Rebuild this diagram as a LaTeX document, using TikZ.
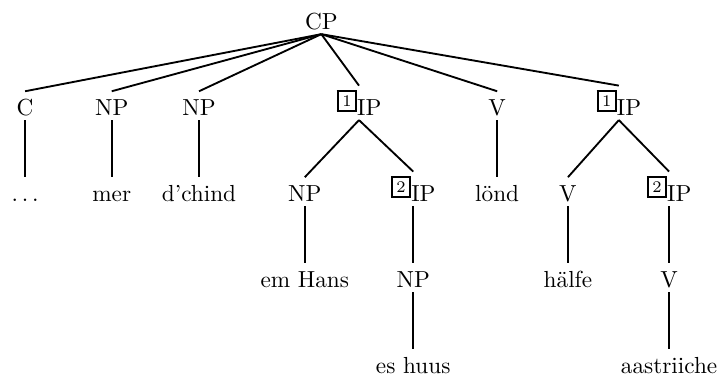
\documentclass[tikz,border=0pt]{standalone}
\usepackage{fontspec}
\usepackage{tikz}
\newcommand{\ibox}[1]{\raisebox{4pt}{\fboxsep=1.5pt\fboxrule=0.9pt\fbox{\scriptsize #1}}}
\tikzset{
  tn/.style={anchor=base,inner sep=1.7pt,text height=2ex,text depth=0pt},
  tb/.style={anchor=base,inner sep=1.7pt,text depth=0pt},
  br/.style={line width=0.8pt}
}
\begin{document}
\begin{tikzpicture}
        \useasboundingbox (0,0) rectangle (10.89,-5.72);
        % level 0
        \node[tn] (cp) at (4.86,-0.45) {CP};
        % level 1
        \node[tn] (c) at (0.38,-1.75) {C};
        \node[tn] (npa) at (1.69,-1.75) {NP};
        \node[tn] (npb) at (3.01,-1.75) {NP};
        \node[tb] (ipa) at (5.43,-1.75) {\ibox{1}IP};
        \node[tn] (va) at (7.52,-1.75) {V};
        \node[tb] (ipb) at (9.36,-1.75) {\ibox{1}IP};
        % level 2
        \node[tn] (dots) at (0.38,-3.05) {$\ldots$};
        \node[tn] (mer) at (1.69,-3.05) {mer};
        \node[tn] (chind) at (3.01,-3.05) {d'chind};
        \node[tn] (npc) at (4.61,-3.05) {NP};
        \node[tb] (ipc) at (6.25,-3.05) {\ibox{2}IP};
        \node[tn] (lond) at (7.52,-3.05) {lönd};
        \node[tn] (vb) at (8.59,-3.05) {V};
        \node[tb] (ipd) at (10.12,-3.05) {\ibox{2}IP};
        % level 3
        \node[tn] (hans) at (4.61,-4.35) {em Hans};
        \node[tn] (npd) at (6.25,-4.35) {NP};
        \node[tn] (halfe) at (8.59,-4.35) {hälfe};
        \node[tn] (vc) at (10.12,-4.35) {V};
        % level 4
        \node[tn] (huus) at (6.25,-5.65) {es huus};
        \node[tn] (aastr) at (10.12,-5.65) {aastriiche};
        % branches
        \draw[br] (cp.south) -- (c.north);
        \draw[br] (cp.south) -- (npa.north);
        \draw[br] (cp.south) -- (npb.north);
        \draw[br] (cp.south) -- (ipa.north);
        \draw[br] (cp.south) -- (va.north);
        \draw[br] (cp.south) -- (ipb.north);
        \draw[br] (c.south) -- (dots.north);
        \draw[br] (npa.south) -- (mer.north);
        \draw[br] (npb.south) -- (chind.north);
        \draw[br] (ipa.south) -- (npc.north);
        \draw[br] (ipa.south) -- (ipc.north);
        \draw[br] (va.south) -- (lond.north);
        \draw[br] (ipb.south) -- (vb.north);
        \draw[br] (ipb.south) -- (ipd.north);
        \draw[br] (npc.south) -- (hans.north);
        \draw[br] (ipc.south) -- (npd.north);
        \draw[br] (vb.south) -- (halfe.north);
        \draw[br] (ipd.south) -- (vc.north);
        \draw[br] (npd.south) -- (huus.north);
        \draw[br] (vc.south) -- (aastr.north);
    \end{tikzpicture}
\end{document}
